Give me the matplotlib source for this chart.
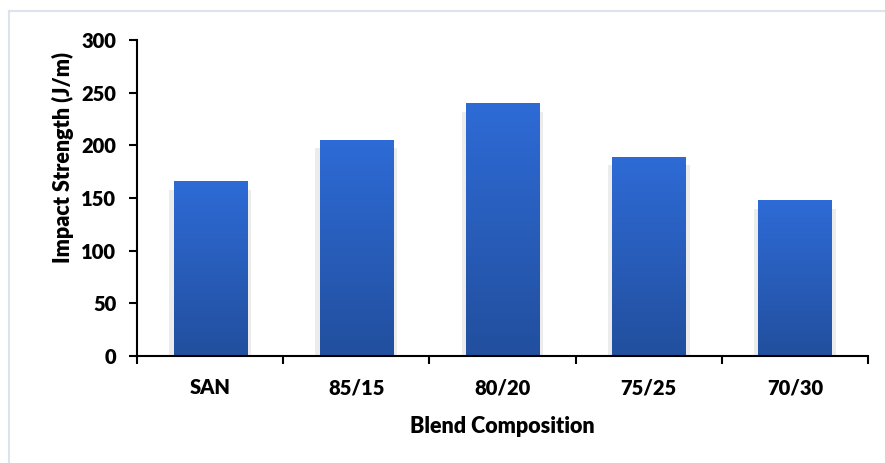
import matplotlib
matplotlib.use("Agg")
import matplotlib.pyplot as plt
import matplotlib.patches as mpatches
from matplotlib.colors import LinearSegmentedColormap
from matplotlib.font_manager import FontProperties
import numpy as np

# ── Data ──────────────────────────────────────────────────────────────────────
blends = ["SAN", "85/15", "80/20", "75/25", "70/30"]
impact_strength = [166, 205, 240, 189, 148]
y_ticks = [0, 50, 100, 150, 200, 250, 300]

BAR_TOP = "#2e6bd6"
BAR_BOTTOM = "#224f9e"
SHADOW = "#ececec"
FRAME = "#dde3ec"

tick_font = FontProperties(family="Lato", weight=800, size=14.5)
label_font = FontProperties(family="Lato", weight=800, size=15.5)

fig = plt.figure(figsize=(8.85, 4.63), dpi=100)
fig.patch.set_facecolor("white")

# thin chart-area frame (only top/left visible inside the canvas)
fig.add_artist(plt.Line2D([9 / 885, 1.0], [1 - 10.5 / 463] * 2, color=FRAME,
                          lw=1.5, transform=fig.transFigure))
fig.add_artist(plt.Line2D([9 / 885] * 2, [0, 1 - 10.5 / 463], color=FRAME,
                          lw=1.5, transform=fig.transFigure))

ax = fig.add_axes([137 / 885, 107 / 463, 731 / 885, 316 / 463])

grad = LinearSegmentedColormap.from_list("bar", [BAR_BOTTOM, BAR_TOP])
gimg = np.linspace(0, 1, 256).reshape(-1, 1)
width = 0.5

x = np.arange(len(blends))
for xi, val in zip(x, impact_strength):
    # soft shadow behind each bar
    ax.add_patch(mpatches.Rectangle((xi - width / 2 - 0.03, 0), width + 0.06,
                                    val - 8, facecolor=SHADOW, edgecolor="none",
                                    zorder=1))
    bar = ax.bar(xi, val, width=width, color="none", edgecolor="none", zorder=2)[0]
    im = ax.imshow(gimg, cmap=grad, aspect="auto", origin="lower",
                   extent=(xi - width / 2, xi + width / 2, 0, val), zorder=2)
    im.set_clip_path(bar)

ax.set_xlim(-0.5, len(blends) - 0.5)
ax.set_ylim(0, 300)

for side in ("top", "right"):
    ax.spines[side].set_visible(False)
for side in ("left", "bottom"):
    ax.spines[side].set_linewidth(1.5)
    ax.spines[side].set_zorder(5)

ax.set_yticks(y_ticks)
ax.set_yticklabels([str(t) for t in y_ticks], fontproperties=tick_font)
ax.tick_params(axis="y", direction="out", length=6, width=1.5, pad=9)

# category labels centred, ticks on the category boundaries
ax.set_xticks(np.arange(-0.5, len(blends)), minor=False)
ax.set_xticklabels([])
ax.set_xticks(x, minor=True)
ax.set_xticklabels(blends, minor=True, fontproperties=tick_font)
ax.tick_params(axis="x", which="major", direction="out", length=6, width=1.5)
ax.tick_params(axis="x", which="minor", length=0, pad=16)

ax.set_xlabel("Blend Composition", fontproperties=label_font)
ax.xaxis.set_label_coords(0.5, -0.19)
ax.set_ylabel("Impact Strength (J/m)", fontproperties=label_font)
ax.yaxis.set_label_coords(-0.086, 0.627)

fig.savefig("out.png", dpi=100, facecolor="white")
